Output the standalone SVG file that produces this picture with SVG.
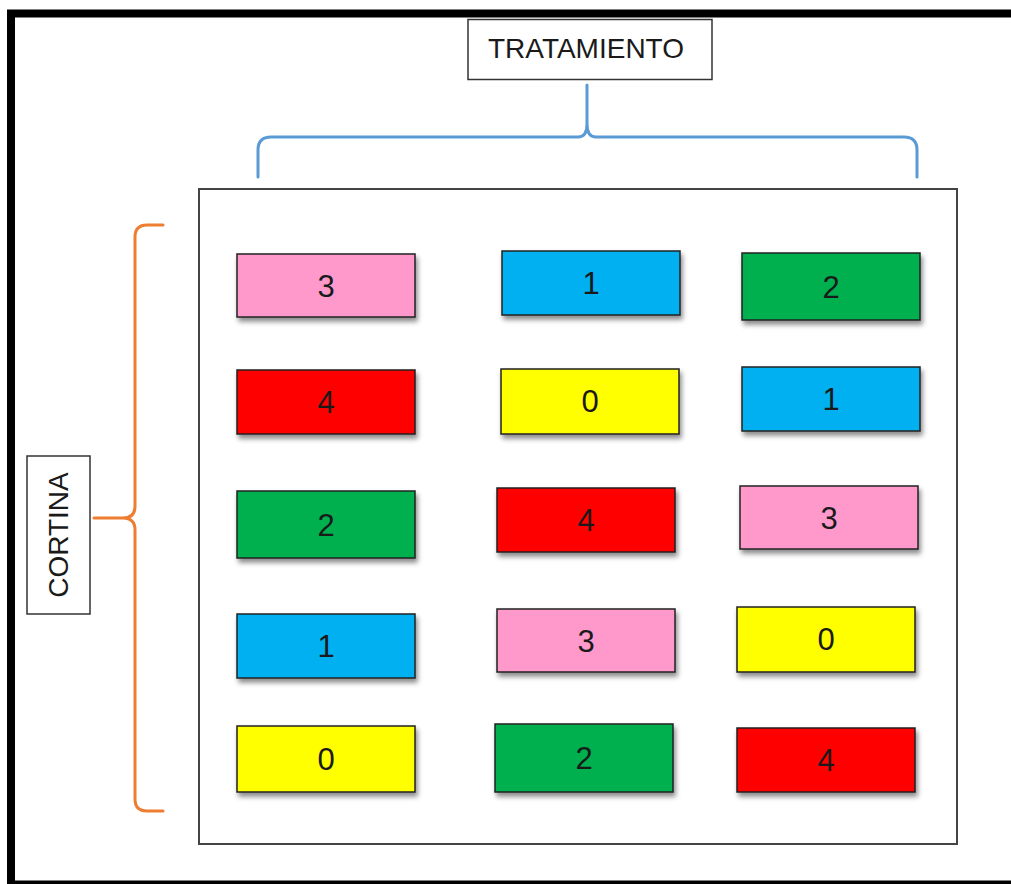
<svg xmlns="http://www.w3.org/2000/svg" width="1011" height="884" viewBox="0 0 1011 884">
<defs>
<style>
.lbl{font-family:"Liberation Sans",Arial,sans-serif;font-size:28px;fill:#1a1a1a;text-anchor:middle}
.num{font-family:"Liberation Sans",Arial,sans-serif;font-size:31px;fill:#1a1a1a;text-anchor:middle}
.cell{stroke:#222;stroke-width:1.5;filter:url(#sh)}
.pink{fill:#FF99CC}.blue{fill:#00B0F0}.green{fill:#00B050}.red{fill:#FF0000}.yellow{fill:#FFFF00}
</style>
<filter id="sh" x="-10%" y="-20%" width="130%" height="150%">
<feDropShadow dx="2" dy="4" stdDeviation="2.5" flood-color="#000" flood-opacity="0.45"/>
</filter>
</defs>
<rect width="1011" height="884" fill="#fff"/>
<rect x="11" y="13.5" width="1010" height="871" fill="none" stroke="#000" stroke-width="8"/>
<g id="main-box"><rect x="199" y="189" width="758" height="655" fill="#fff" stroke="#444" stroke-width="2"/></g>
<g id="tratamiento"><rect x="468" y="19.5" width="244" height="60" fill="#fff" stroke="#333" stroke-width="1.5"/><text class="lbl" x="586" y="58">TRATAMIENTO</text></g>
<g id="cortina"><rect x="27" y="456" width="63" height="158" fill="#fff" stroke="#333" stroke-width="1.5"/><text class="lbl" transform="translate(68,535) rotate(-90)" x="0" y="0">CORTINA</text></g>
<g id="connectors" fill="none" stroke-linecap="round">
<path d="M258,177 V150 Q258,137 271,137 H578 Q587,137 587,124 V85 M587,124 Q587,137 596,137 H904 Q917,137 917,150 V177" stroke="#5B9BD5" stroke-width="3"/>
<path d="M163,225 H147 Q135,225 135,237 V506 Q135,518 123,518 H94 M123,518 Q135,518 135,530 V799 Q135,811 147,811 H163" stroke="#ED7D31" stroke-width="3"/>
</g>
<g id="r1c1"><rect class="cell pink" x="237" y="254" width="178" height="63"/><text class="num" x="326" y="297">3</text></g>
<g id="r1c2"><rect class="cell blue" x="502" y="251" width="178" height="64"/><text class="num" x="591" y="294">1</text></g>
<g id="r1c3"><rect class="cell green" x="742" y="253" width="178" height="67"/><text class="num" x="831" y="298">2</text></g>
<g id="r2c1"><rect class="cell red" x="237" y="370" width="178" height="64"/><text class="num" x="326" y="413">4</text></g>
<g id="r2c2"><rect class="cell yellow" x="501" y="369" width="178" height="65"/><text class="num" x="590" y="412">0</text></g>
<g id="r2c3"><rect class="cell blue" x="742" y="367" width="178" height="64"/><text class="num" x="831" y="410">1</text></g>
<g id="r3c1"><rect class="cell green" x="237" y="491" width="178" height="67"/><text class="num" x="326" y="536">2</text></g>
<g id="r3c2"><rect class="cell red" x="497" y="488" width="178" height="64"/><text class="num" x="586" y="531">4</text></g>
<g id="r3c3"><rect class="cell pink" x="740" y="486" width="178" height="63"/><text class="num" x="829" y="529">3</text></g>
<g id="r4c1"><rect class="cell blue" x="237" y="614" width="178" height="64"/><text class="num" x="326" y="657">1</text></g>
<g id="r4c2"><rect class="cell pink" x="497" y="609" width="178" height="63"/><text class="num" x="586" y="652">3</text></g>
<g id="r4c3"><rect class="cell yellow" x="737" y="607" width="178" height="65"/><text class="num" x="826" y="650">0</text></g>
<g id="r5c1"><rect class="cell yellow" x="237" y="726" width="178" height="66"/><text class="num" x="326" y="770">0</text></g>
<g id="r5c2"><rect class="cell green" x="495" y="724" width="178" height="68"/><text class="num" x="584" y="769">2</text></g>
<g id="r5c3"><rect class="cell red" x="737" y="728" width="178" height="64"/><text class="num" x="826" y="771">4</text></g>
</svg>
